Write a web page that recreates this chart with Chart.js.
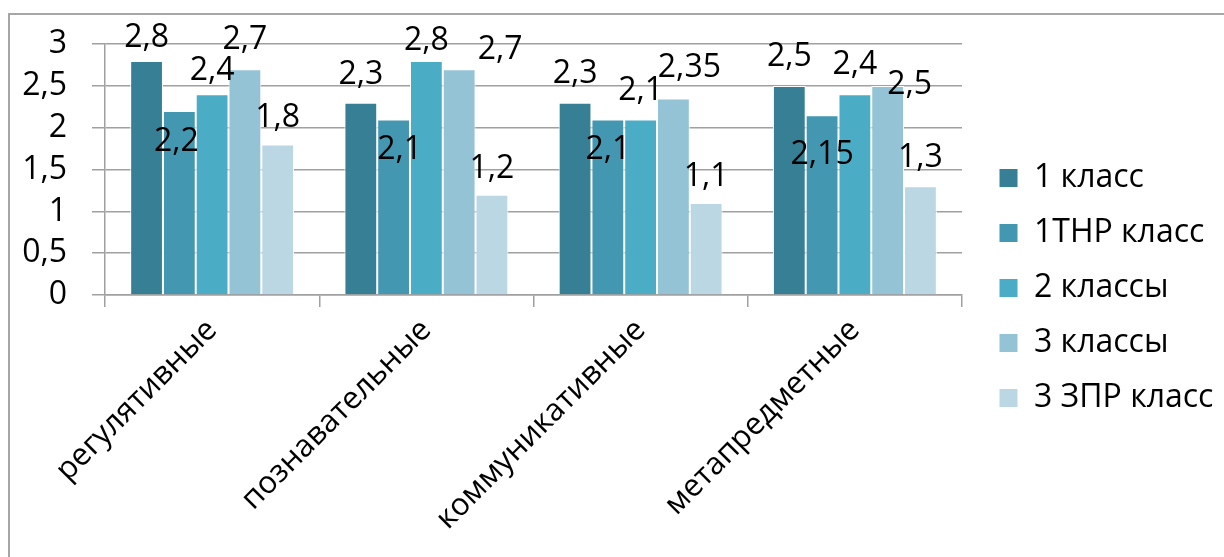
<!DOCTYPE html>
<html>
<head>
<meta charset="utf-8">
<script src="https://cdn.jsdelivr.net/npm/chart.js@4.4.1/dist/chart.umd.min.js"></script>
<style>
  html, body { margin: 0; padding: 0; background: #fff; }
  #wrap { width: 1224px; height: 557px; }
</style>
</head>
<body>
<div id="wrap"><canvas id="uudChart" width="1224" height="557"></canvas></div>
<script>
// categories and values
const categories = ['регулятивные', 'познавательные', 'коммуникативные', 'метапредметные'];
const seriesNames = ['1 класс', '1ТНР класс', '2 классы', '3 классы', '3 ЗПР класс'];
const class1 = [2.8, 2.3, 2.3, 2.5];
const class1thr = [2.2, 2.1, 2.1, 2.15];
const class2 = [2.4, 2.8, 2.1, 2.4];
const class3 = [2.7, 2.7, 2.35, 2.5];
const class3zpr = [1.8, 1.2, 1.1, 1.3];
const yTicks = [0, 0.5, 1, 1.5, 2, 2.5, 3];

const colors = ['#377f94', '#4397b0', '#4bacc6', '#93c3d4', '#bad7e3'];

// small nudges for the value labels, like they were dragged around in Excel
const labelNudge = [
    [[0, 4], [0, -1], [0, -2], [0, -2]],
    [[-3, 58], [6, 57], [0, 57], [0, 67]],
    [[0, 4], [0, 7], [0, -2], [0, -2]],
    [[0, -2], [41, 8], [16, -4], [22, 26]],
    [[0, 0], [0, 1], [0, 1], [0, -1]]
];

const FONT = 'Open Sans';
const FSIZE = 32;
const plotRight = 962;
const legendGap = 14;

function fmt(v) {
    return String(v).replace('.', ',');
}

// work out the right padding so the plot ends where it does in the picture
const mctx = document.createElement('canvas').getContext('2d');
mctx.font = FSIZE + 'px "' + FONT + '"';
let maxText = 0;
seriesNames.forEach(n => { maxText = Math.max(maxText, mctx.measureText(n).width); });
const legendW = 23 + 19 + FSIZE / 2 + maxText + 10;
const padRight = Math.max(0, 1224 - plotRight - legendW);

// push the legend a bit away from the plot
const legendShift = {
    id: 'legendShift',
    afterLayout(chart) {
        if (chart.legend) {
            chart.legend.left += legendGap;
            chart.legend.right += legendGap;
        }
    }
};

const frame = {
    id: 'frame',
    beforeDraw(chart) {
        const c = chart.ctx;
        c.save();
        c.fillStyle = '#fff';
        c.fillRect(0, 0, chart.width, chart.height);
        c.strokeStyle = '#a6a6a6';
        c.lineWidth = 2;
        c.strokeRect(9, 14, 1400, 700);
        c.restore();
    }
};

const valueLabels = {
    id: 'valueLabels',
    afterDatasetsDraw(chart) {
        const c = chart.ctx;
        c.save();
        c.font = FSIZE + 'px "' + FONT + '"';
        c.fillStyle = '#000';
        c.textAlign = 'center';
        c.textBaseline = 'middle';
        chart.data.datasets.forEach((ds, i) => {
            const meta = chart.getDatasetMeta(i);
            meta.data.forEach((bar, j) => {
                const n = labelNudge[i][j];
                c.fillText(fmt(ds.data[j]), bar.x + n[0], bar.y - 27 + n[1]);
            });
        });
        c.restore();
    }
};

const seriesData = [class1, class1thr, class2, class3, class3zpr];

const ctx = document.getElementById('uudChart').getContext('2d');
const uudChart = new Chart(ctx, {
    type: 'bar',
    data: {
        labels: categories,
        datasets: seriesNames.map((name, i) => ({
            label: name,
            data: seriesData[i],
            backgroundColor: colors[i],
            borderColor: '#ffffff',
            borderWidth: 1,
            categoryPercentage: 0.765,
            barPercentage: 1
        }))
    },
    options: {
        responsive: false,
        animation: false,
        devicePixelRatio: 1,
        layout: {
            padding: { left: 0, top: 44, right: padRight, bottom: 25 }
        },
        scales: {
            x: {
                grid: {
                    offset: true,
                    drawOnChartArea: false,
                    drawTicks: true,
                    tickLength: 12,
                    color: '#a0a0a0',
                    lineWidth: 1.5
                },
                border: { color: '#a0a0a0', width: 1.5 },
                ticks: {
                    autoSkip: false,
                    minRotation: 45,
                    maxRotation: 45,
                    padding: 5,
                    color: '#000',
                    font: { family: FONT, size: 31 }
                },
                afterFit(scale) {
                    scale.height = 557 - 25 - 295;
                }
            },
            y: {
                min: 0,
                max: 3,
                afterBuildTicks(scale) {
                    scale.ticks = yTicks.map(v => ({ value: v }));
                },
                grid: {
                    color: '#a0a0a0',
                    lineWidth: 1.5,
                    tickLength: 13
                },
                border: { color: '#a0a0a0', width: 1.5 },
                ticks: {
                    padding: 25,
                    color: '#000',
                    font: { family: FONT, size: FSIZE },
                    callback: v => fmt(v)
                },
                afterFit(scale) {
                    scale.width = 105;
                }
            }
        },
        plugins: {
            legend: {
                position: 'right',
                labels: {
                    boxWidth: 19,
                    boxHeight: 19,
                    padding: 23,
                    color: '#000',
                    font: { family: FONT, size: FSIZE }
                }
            },
            tooltip: { enabled: false }
        }
    },
    plugins: [legendShift, frame, valueLabels]
});
</script>
</body>
</html>
